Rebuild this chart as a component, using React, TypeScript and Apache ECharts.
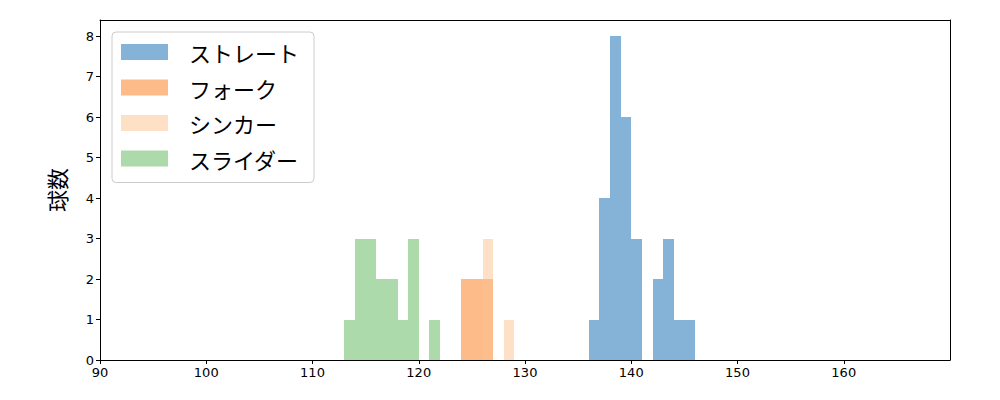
import React, { useEffect, useRef } from "react";
import * as echarts from "echarts";

const binWidth = 1;
const straightStarts = [136, 137, 138, 139, 140, 141, 142, 143, 144, 145];
const straightCounts = [1, 4, 8, 6, 3, 0, 2, 3, 1, 1];
const forkStarts = [124, 125, 126];
const forkCounts = [2, 2, 2];
const sinkerStarts = [126, 127, 128];
const sinkerCounts = [3, 0, 1];
const sliderStarts = [113, 114, 115, 116, 117, 118, 119, 120, 121];
const sliderCounts = [1, 3, 3, 2, 2, 1, 3, 0, 1];

const seriesNames = ["ストレート", "フォーク", "シンカー", "スライダー"];
const seriesColors = ["#85b3d8", "#fdbb8a", "rgba(251,193,141,0.5)", "#addaab"];
const xTicks = [90, 100, 110, 120, 130, 140, 150, 160];
const yTicks = [0, 1, 2, 3, 4, 5, 6, 7, 8];

const toBins = (starts: number[], counts: number[]) =>
  starts.map((s, i) => [s, s + binWidth, counts[i]]);

export default function App() {
  const ref = useRef<HTMLDivElement>(null);
  useEffect(() => {
    document.body.style.margin = "0";
    const chart = echarts.init(ref.current!, null, { renderer: "svg" });
    const datasets = [
      toBins(straightStarts, straightCounts),
      toBins(forkStarts, forkCounts),
      toBins(sinkerStarts, sinkerCounts),
      toBins(sliderStarts, sliderCounts),
    ];
    const series = datasets.map((data, k) => ({
      type: "custom",
      name: seriesNames[k],
      itemStyle: { color: seriesColors[k] },
      encode: { x: [0, 1], y: 2 },
      data,
      renderItem: (params: any, api: any) => {
        const tl = api.coord([api.value(0), api.value(2)]);
        const br = api.coord([api.value(1), 0]);
        const x0 = Math.round(tl[0]);
        const x1 = Math.round(br[0]);
        const y0 = Math.round(tl[1]);
        const y1 = Math.round(br[1]);
        return {
          type: "rect",
          shape: { x: x0, y: y0, width: x1 - x0, height: y1 - y0 },
          style: { fill: seriesColors[k] },
        };
      },
    }));
    const frameAxis = {
      axisLine: { show: true, onZero: false, lineStyle: { color: "#000" } },
      axisTick: { show: false },
      axisLabel: { show: false },
      splitLine: { show: false },
    };
    chart.setOption({
      animation: false,
      grid: { left: 100, right: 50, top: 20, bottom: 40 },
      legend: {
        orient: "vertical",
        left: 112,
        top: 32,
        data: seriesNames.map((n) => ({ name: n, icon: "rect" })),
        itemWidth: 47,
        itemHeight: 16,
        itemGap: 11.5,
        padding: [8, 15, 12, 9],
        borderColor: "#cccccc",
        borderWidth: 1,
        borderRadius: 4,
        backgroundColor: "rgba(255,255,255,0.8)",
        textStyle: {
          fontFamily: "Noto Sans CJK JP",
          fontSize: 22,
          lineHeight: 24,
          color: "#000",
          padding: [0, 0, 0, 16],
        },
      },
      xAxis: [
        {
          type: "value",
          min: 90,
          max: 170,
          interval: 10,
          splitLine: { show: false },
          axisLine: { show: true, onZero: false, lineStyle: { color: "#000" } },
          axisTick: { show: true, length: 4, lineStyle: { color: "#000" }, customValues: xTicks },
          axisLabel: {
            fontFamily: "DejaVu Sans",
            fontSize: 13,
            color: "#000",
            margin: 6,
            customValues: xTicks,
          },
        },
        { type: "value", position: "top", min: 90, max: 170, ...frameAxis },
      ],
      yAxis: [
        {
          type: "value",
          min: 0,
          max: 8.4,
          interval: 1,
          name: "球数",
          nameLocation: "middle",
          nameGap: 33,
          nameTextStyle: { fontFamily: "Noto Sans CJK JP", fontSize: 22, color: "#000" },
          splitLine: { show: false },
          axisLine: { show: true, onZero: false, lineStyle: { color: "#000" } },
          axisTick: { show: true, length: 4, lineStyle: { color: "#000" }, customValues: yTicks },
          axisLabel: {
            fontFamily: "DejaVu Sans",
            fontSize: 13,
            color: "#000",
            margin: 6,
            customValues: yTicks,
          },
        },
        { type: "value", position: "right", min: 0, max: 8.4, ...frameAxis },
      ],
      series,
    });
    return () => chart.dispose();
  }, []);
  return <div ref={ref} style={{ width: 1000, height: 400 }} />;
}
